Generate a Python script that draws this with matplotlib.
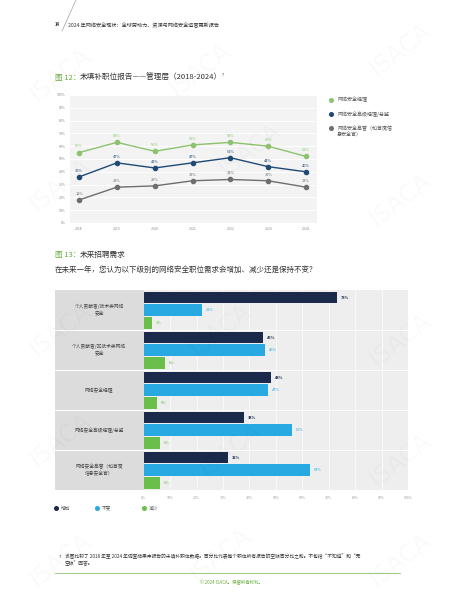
import matplotlib
matplotlib.use("Agg")
import matplotlib.pyplot as plt
from matplotlib.lines import Line2D

plt.rcParams['font.family'] = ['Noto Sans CJK SC', 'DejaVu Sans']

# ---- data: figure 12 (unfilled positions, management) ----
years = [2018, 2019, 2020, 2021, 2022, 2023, 2024]
mgr = [55, 63, 56, 61, 63, 60, 52]
senior_mgr = [36, 47, 43, 47, 51, 44, 40]
executive = [18, 28, 29, 33, 34, 33, 28]
line_names = ['网络安全经理', '网络安全高级经理/总监', '网络安全高管（如首席信\n息安全官）']

# ---- data: figure 13 (future hiring demand) ----
roles = ['个人贡献者/技术类网络\n安全', '个人贡献者/非技术类网络\n安全', '网络安全经理',
         '网络安全高级经理/总监', '网络安全高管（如首席\n信息安全官）']
increase = [73, 45, 48, 38, 32]
same = [22, 46, 47, 56, 63]
decrease = [3, 8, 5, 6, 6]
bar_names = ['增加', '不变', '减少']

W, H = 463, 600
fig = plt.figure(figsize=(W / 100, H / 100), dpi=100)


def box(l, t, r, b):
    return [l / W, 1 - b / H, (r - l) / W, (b - t) / H]


def ptxt(x, y, s, **kw):
    fig.text(x / W, 1 - y / H, s, **kw)


GREEN_T = '#6aae3e'
TXT = '#333333'

# faint watermarks
for cx, cy in [(60, 75), (200, 70), (400, 50), (60, 185), (250, 150), (400, 200),
               (60, 330), (220, 330), (400, 340), (60, 440), (230, 450), (400, 460),
               (60, 560), (220, 555), (400, 560)]:
    ptxt(cx, cy, 'ISACA', fontsize=17, color='#000000', alpha=0.022, rotation=38,
         ha='center', va='center', family='DejaVu Sans', zorder=10)

# header
ptxt(55, 25, '14', fontsize=3, color=TXT, fontweight='bold', va='center')
fig.add_artist(Line2D([62 / W, 76 / W], [1 - 31 / H, 1 - 0 / H], color='#888888', lw=0.4))
ptxt(68, 25, '2024 年网络安全现状：全球劳动力、资源与网络安全运营更新报告', fontsize=3.7,
     color=TXT, va='center')

# figure 12 title
ptxt(55, 78, '图 12：', fontsize=5.5, color=GREEN_T, va='center')
ptxt(80, 78, '未填补职位报告——管理层（2018-2024）', fontsize=5.5, color=TXT, va='center')
ptxt(222, 75, '7', fontsize=2.8, color=TXT, va='center')

# ---- line chart ----
ax1 = fig.add_axes(box(70, 95, 317, 223))
ax1.set_facecolor('#f3f3f3')
ax1.set_xlim(2017.76, 2024.29)
ax1.set_ylim(0, 100)
ax1.set_yticks(range(0, 101, 10))
ax1.set_yticklabels([f'{v}%' for v in range(0, 101, 10)])
ax1.set_xticks(years)
ax1.tick_params(labelsize=2.5, colors='#888888', length=0, pad=3)
ax1.grid(axis='y', color='white', lw=0.6)
ax1.set_axisbelow(True)
for s in ax1.spines.values():
    s.set_visible(False)

line_colors = ['#8dc26f', '#1f4a75', '#6e6e6e']
for vals, c in zip([mgr, senior_mgr, executive], line_colors):
    ax1.plot(years, vals, color=c, lw=1.0, marker='o', markersize=3, zorder=3)
    for x, v in zip(years, vals):
        ax1.annotate(f'{v}%', (x, v), xytext=(0, 3), textcoords='offset points',
                     ha='center', va='bottom', fontsize=2.8, color=c)

# legend for line chart
for i, (name, c) in enumerate(zip(line_names, line_colors)):
    y = 100 + i * 14
    fig.add_artist(Line2D([331 / W], [1 - y / H], marker='o', markersize=2.6, color=c, lw=0))
    ptxt(337, y - 2.5 if '\n' in name else y, name, fontsize=3.6, color='#555555',
         va='top' if '\n' in name else 'center', linespacing=1.3)

# figure 13 title + question
ptxt(55, 255, '图 13：', fontsize=5.5, color=GREEN_T, va='center')
ptxt(80, 255, '未来招聘需求', fontsize=5.5, color=TXT, va='center')
ptxt(55, 270, '在未来一年，您认为以下级别的网络安全职位需求会增加、减少还是保持不变？', fontsize=5.4,
     color=TXT, va='center')

# ---- bar chart ----
n = len(roles)
panel = fig.add_axes(box(55, 290, 143.7, 490))
panel.set_facecolor('#dcdcdc')
panel.set_xlim(0, 1)
panel.set_ylim(n, 0)
panel.set_xticks([])
panel.set_yticks([])
for s in panel.spines.values():
    s.set_visible(False)
for i in range(1, n):
    panel.axhline(i, color='white', lw=0.8)
for i, r in enumerate(roles):
    panel.text(0.5, i + 0.5, r, ha='center', va='center', fontsize=3.4, color='#444444',
               linespacing=1.4)

ax2 = fig.add_axes(box(143.7, 290, 408, 490))
ax2.set_facecolor('#eeeeee')
ax2.set_xlim(0, 100)
ax2.set_ylim(n, 0)
ax2.set_xticks(range(0, 101, 10))
ax2.set_xticklabels([f'{v}%' for v in range(0, 101, 10)])
ax2.set_yticks([])
ax2.tick_params(labelsize=2.5, colors='#999999', length=0, pad=4)
ax2.grid(axis='x', color='white', lw=0.5)
ax2.set_axisbelow(True)
for s in ax2.spines.values():
    s.set_visible(False)
for i in range(1, n):
    ax2.axhline(i, color='white', lw=0.8)

bar_colors = ['#1b2a4a', '#29a9e1', '#6abf4b']
offsets = [0.19, 0.5, 0.82]
for series, c, off in zip([increase, same, decrease], bar_colors, offsets):
    ys = [i + off for i in range(n)]
    ax2.barh(ys, series, height=0.29, color=c, zorder=3)
    for y, v in zip(ys, series):
        ax2.text(v + 1.5, y, f'{v}%', va='center', ha='left', fontsize=2.8, color=c,
                 fontweight='bold' if c == bar_colors[0] else 'normal')

# legend for bar chart
for x, name, c in zip([56, 97, 144], bar_names, bar_colors):
    fig.add_artist(Line2D([x / W], [1 - 508 / H], marker='o', markersize=2.6, color=c, lw=0))
    ptxt(x + 5, 508, name, fontsize=3.4, color='#555555', va='center')

# footnote
ptxt(59, 557, '7', fontsize=3, color=TXT, va='center')
ptxt(65, 560, '该图比较了 2018 年至 2024 年调查结果中报告的未填补职位数据。百分比代表每个职位所有报告的空缺百分比之和。不包括“不知道”和“无\n空缺”回答。',
     fontsize=3.4, color=TXT, va='center', linespacing=1.4)
fig.add_artist(Line2D([55 / W, 400 / W], [1 - 573 / H, 1 - 573 / H], color='#8dc26f', lw=0.6))
ptxt(231, 583, '© 2024 ISACA。保留所有权利。', fontsize=3.2, color=GREEN_T, ha='center', va='center')

fig.savefig('out.png', dpi=100, facecolor='white')
